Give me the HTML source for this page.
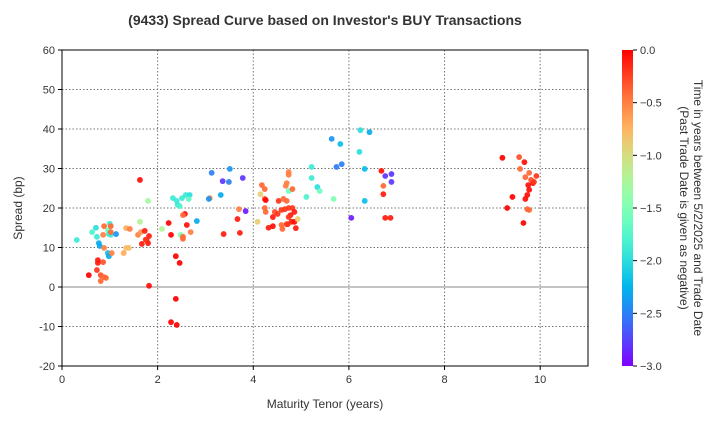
<!DOCTYPE html>
<html><head><meta charset="utf-8"><style>
body{margin:0;background:#fff;font-family:"Liberation Sans",Arial,sans-serif}
svg text{font-family:"Liberation Sans",Arial,sans-serif}
</style></head><body>
<svg id="chart" width="720" height="420" xmlns="http://www.w3.org/2000/svg">
<defs><linearGradient id="cb" x1="0" y1="1" x2="0" y2="0"></linearGradient></defs>
<text x="325" y="25" text-anchor="middle" font-size="14" font-weight="bold" fill="#333">(9433)   Spread Curve based on Investor's BUY Transactions</text>
<g id="grid"></g>
<g id="points"></g>
<rect x="62" y="50" width="526" height="316" fill="none" stroke="#000" stroke-width="1"/>
<g id="axes"></g>
<text x="325" y="408" text-anchor="middle" font-size="12" fill="#333">Maturity Tenor (years)</text>
<text transform="translate(22,208) rotate(-90)" text-anchor="middle" font-size="12" fill="#333">Spread (bp)</text>
<rect x="622" y="50" width="11" height="316" fill="url(#cb)"/>
<g id="cbticks"></g>
<text transform="translate(694,208) rotate(90)" text-anchor="middle" font-size="12" fill="#333">Time in years between 5/2/2025 and Trade Date</text>
<text transform="translate(680,208) rotate(90)" text-anchor="middle" font-size="12" fill="#333">(Past Trade Date is given as negative)</text>
</svg>
<script>
const xTicks=[0,2,4,6,8,10];
const yTicks=[-20,-10,0,10,20,30,40,50,60];
const cTicks=[0,-0.5,-1,-1.5,-2,-2.5,-3];
const cTickLabels=["0.0","\u22120.5","\u22121.0","\u22121.5","\u22122.0","\u22122.5","\u22123.0"];
const tenor=[0.31,0.56,0.63,0.71,0.73,0.77,0.79,0.88,0.86,0.96,0.98,1.0,1.02,1.13,0.88,0.96,0.98,1.04,0.75,0.75,0.86,0.73,0.81,0.88,0.92,0.81,1.02,1.02,1.34,1.42,1.34,1.40,1.29,1.59,1.65,1.63,1.63,1.80,1.67,1.73,1.77,1.80,1.82,1.82,1.75,2.09,2.23,2.28,2.32,2.40,2.42,2.46,2.51,2.59,2.67,2.65,2.38,2.46,2.38,2.28,2.40,2.57,2.53,2.61,2.48,2.53,2.53,2.69,2.82,3.09,3.07,3.13,3.32,3.36,3.49,3.51,3.78,3.84,3.70,3.67,3.38,3.72,4.18,4.24,4.15,4.24,4.26,4.24,4.26,4.09,4.32,4.41,4.53,4.63,4.70,4.74,4.74,4.70,4.68,4.74,4.82,4.45,4.41,4.51,4.59,4.66,4.74,4.82,4.86,4.78,4.74,4.80,4.70,4.72,4.59,4.61,4.86,4.93,4.89,5.22,5.22,5.34,5.39,5.11,5.68,5.64,5.82,5.74,5.85,6.24,6.43,6.22,6.33,6.33,6.05,6.68,6.76,6.89,6.89,6.72,6.72,6.76,6.87,9.21,9.56,9.67,9.58,9.77,9.69,9.92,9.85,9.75,9.77,9.73,9.69,9.42,9.31,9.73,9.77,9.65,9.81,9.87];
const spread=[11.9,3.0,13.9,15.0,12.7,11.1,10.4,15.4,13.2,14.4,13.4,16.0,13.2,13.4,9.9,8.6,7.8,8.6,6.8,6.1,6.3,4.3,3.0,2.5,2.3,1.5,15.4,13.9,14.9,14.7,9.9,9.9,8.6,13.2,13.9,16.5,27.1,21.8,10.9,14.2,11.9,11.1,12.9,0.3,12.0,14.7,16.2,13.2,22.5,21.8,20.8,20.5,22.5,23.3,23.3,22.3,7.8,6.1,-3.0,-8.9,-9.6,18.5,18.2,15.7,13.2,12.7,12.2,13.9,16.7,22.5,22.3,28.9,23.3,26.8,26.6,29.9,27.6,19.2,19.7,17.2,13.4,13.7,25.8,24.8,23.5,22.3,22.0,20.0,19.0,16.5,15.0,15.4,21.8,22.3,21.8,29.1,28.4,26.3,25.6,24.3,24.8,19.0,17.7,18.5,19.5,19.7,20.0,20.0,19.0,18.2,17.7,16.5,15.9,15.9,15.7,14.7,16.5,17.2,14.9,30.4,27.6,25.3,24.3,22.8,22.3,37.5,36.2,30.4,31.1,39.7,39.2,34.2,29.9,21.8,17.5,29.4,28.1,28.6,26.6,25.6,23.5,17.5,17.5,32.7,32.9,31.6,29.9,28.9,27.8,28.1,26.3,25.8,24.6,23.3,22.3,22.8,20.0,19.7,19.5,16.2,27.1,26.6];
const age=[-1.9,0,-1.8,-2.0,-1.9,-2.3,-2.3,-0.4,-0.5,-1.6,-1.9,-1.9,-1.9,-2.4,-0.5,-2.2,-2.3,-0.5,-0.1,-0.1,-0.3,-0.2,-0.3,-0.4,-0.4,-0.4,-0.4,-0.4,-0.7,-0.5,-0.8,-0.8,-0.7,-0.5,-0.6,-1.2,-0.05,-1.3,-0.1,-0.1,-0.1,-0.1,-0.1,-0.05,-0.2,-1.2,0,0,-1.9,-1.9,-1.9,-1.8,-1.9,-1.9,-2.0,-1.7,0,0,0,0,0,-0.05,-0.4,-0.05,-1.5,-0.4,-0.4,-0.5,-2.3,-0.5,-2.4,-2.5,-2.3,-2.8,-2.5,-2.4,-2.8,-2.9,-0.5,-0.1,-0.1,-0.1,-0.4,-0.4,-0.9,-0.3,0,-0.4,-0.4,-0.9,-0.1,-0.05,-0.2,-0.4,-0.4,-0.5,-0.5,-0.5,-0.5,-1.6,-0.4,-0.3,-0.1,-0.2,-0.2,-0.2,-0.2,-0.2,-0.1,-0.1,-0.2,-0.1,-0.2,-0.2,-0.4,-0.4,-0.05,-0.9,-0.1,-1.9,-1.9,-2.0,-1.6,-1.8,-1.5,-2.4,-2.2,-2.5,-2.5,-2.0,-2.3,-2.0,-2.2,-2.2,-2.9,-0.05,-2.8,-2.8,-2.8,-0.4,-0.1,-0.1,-0.1,0,-0.3,-0.05,-0.4,-0.4,-0.4,-0.2,-0.05,-0.05,-0.05,-0.05,-0.05,0,0,-0.4,-0.4,0,-0.3,-0.2];
const NS="http://www.w3.org/2000/svg";
const X0=62,X1=588,Y0=50,Y1=366;
const xs=v=>X0+(v-0)/(11-0)*(X1-X0);
const ys=v=>Y1-(v+20)/(80)*(Y1-Y0);
const cs=v=>Y1-(v+3)/3*(Y1-Y0);
function rainbow(a){const t=(a+3)/3;const cl=v=>Math.max(0,Math.min(1,v));
const r=cl(Math.abs(2*t-0.5)),g=cl(Math.sin(Math.PI*t)),b=cl(Math.cos(Math.PI/2*t));
return `rgb(${Math.round(r*255)},${Math.round(g*255)},${Math.round(b*255)})`;}
function mk(tag,attrs,parent){const e=document.createElementNS(NS,tag);for(const k in attrs)e.setAttribute(k,attrs[k]);parent.appendChild(e);return e;}
const grid=document.getElementById('grid'),axes=document.getElementById('axes');
xTicks.forEach(t=>{const x=xs(t);
const l=mk('line',{x1:x,x2:x,y1:Y0,y2:Y1,stroke:'#777','stroke-dasharray':'1.5,2','stroke-width':1},grid);


const tk=mk('line',{x1:x,x2:x,y1:Y1,y2:Y1+4,stroke:'#000'},axes);


const tx=mk('text',{x:x,y:Y1+17,'text-anchor':'middle','font-size':11,fill:'#333'},axes);tx.textContent=t;

});
yTicks.forEach(t=>{const y=ys(t);
const l=mk('line',{x1:X0,x2:X1,y1:y,y2:y,stroke:t===0?'#888':'#777','stroke-dasharray':t===0?'none':'1.5,2','stroke-width':1},grid);


const tk=mk('line',{x1:X0-4,x2:X0,y1:y,y2:y,stroke:'#000'},axes);


const tx=mk('text',{x:X0-7,y:y+4,'text-anchor':'end','font-size':11,fill:'#333'},axes);tx.textContent=t;

});
const pts=document.getElementById('points');
tenor.forEach((v,i)=>{const c=mk('circle',{cx:xs(v),cy:ys(spread[i]),r:2.9,fill:rainbow(age[i]),'fill-opacity':0.92},pts);

});
const grad=document.getElementById('cb');
for(let i=0;i<=20;i++){const a=-3+3*i/20;mk('stop',{offset:(i/20),'stop-color':rainbow(a)},grad);}
const cbt=document.getElementById('cbticks');
cTicks.forEach((t,i)=>{const y=cs(t);
const tk=mk('line',{x1:633,x2:637,y1:y,y2:y,stroke:'#000'},cbt);


const tx=mk('text',{x:640,y:y+4,'font-size':11,fill:'#333'},cbt);tx.textContent=cTickLabels[i];

});
</script>
</body></html>
